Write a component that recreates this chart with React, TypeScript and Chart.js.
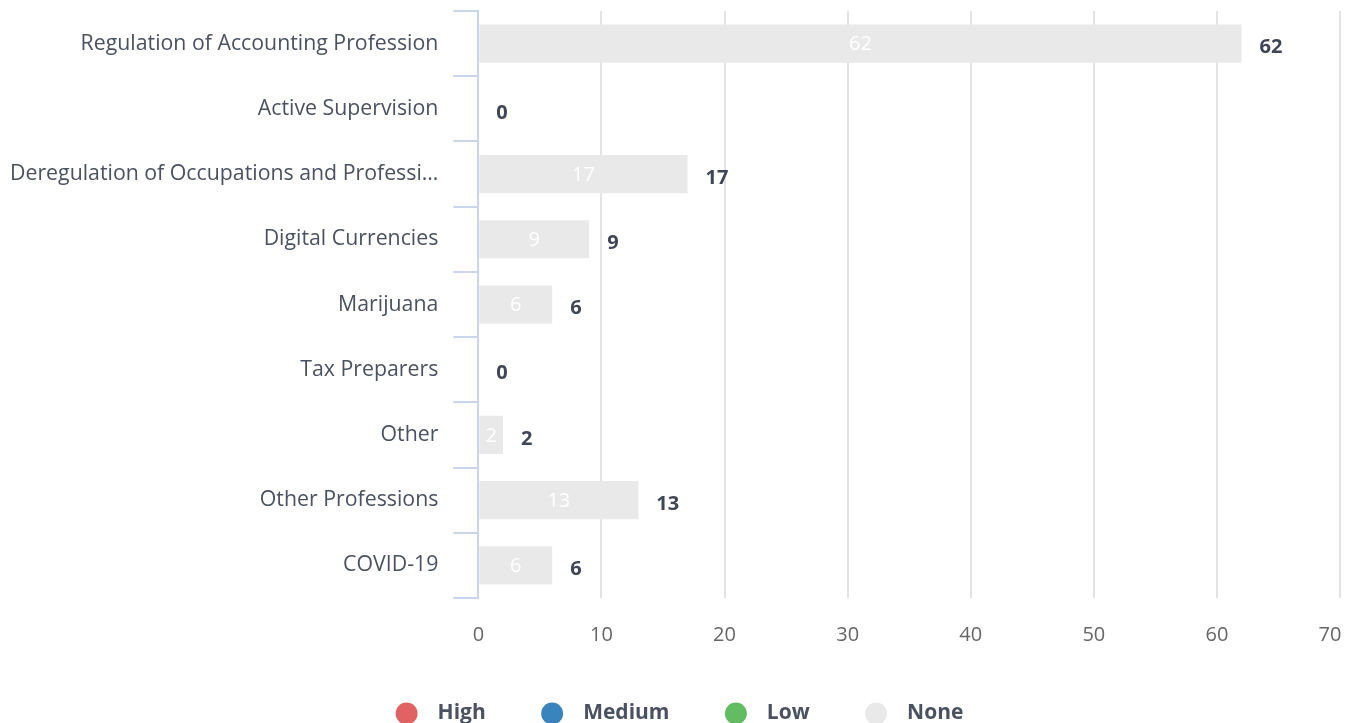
import React, { useEffect, useRef } from "react";
import { Chart, registerables } from "chart.js";

Chart.register(...registerables);

const categories = [
  "Regulation of Accounting Profession",
  "Active Supervision",
  "Deregulation of Occupations and Professions",
  "Digital Currencies",
  "Marijuana",
  "Tax Preparers",
  "Other",
  "Other Professions",
  "COVID-19",
];
const highValues = [0, 0, 0, 0, 0, 0, 0, 0, 0];
const mediumValues = [0, 0, 0, 0, 0, 0, 0, 0, 0];
const lowValues = [0, 0, 0, 0, 0, 0, 0, 0, 0];
const noneValues = [62, 0, 17, 9, 6, 0, 2, 13, 6];
const xTicks = [0, 10, 20, 30, 40, 50, 60, 70];

const FONT = "'Open Sans', 'Noto Sans', sans-serif";

const labelPlugin = {
  id: "barLabels",
  afterLayout(chart: any) {
    if (chart.legend) {
      chart.legend.left += 5;
      chart.legend.right += 5;
    }
  },
  afterDatasetsDraw(chart: any) {
    const { ctx } = chart;
    const xScale = chart.scales.x;
    const n = chart.data.labels.length;
    ctx.save();
    chart.data.datasets.forEach((ds: any, di: number) => {
      const meta = chart.getDatasetMeta(di);
      meta.data.forEach((bar: any, i: number) => {
        const v = ds.data[i];
        if (!v) return;
        ctx.font = `400 20px ${FONT}`;
        ctx.fillStyle = "#ffffff";
        ctx.textAlign = "center";
        ctx.textBaseline = "middle";
        ctx.fillText(String(v), (bar.x + bar.base) / 2, bar.y + 1);
      });
    });
    const meta0 = chart.getDatasetMeta(chart.data.datasets.length - 1);
    for (let i = 0; i < n; i++) {
      let total = 0;
      chart.data.datasets.forEach((ds: any) => (total += ds.data[i] || 0));
      const x = xScale.getPixelForValue(total) + 18;
      const y = meta0.data[i].y + 4;
      ctx.font = `700 20px ${FONT}`;
      ctx.fillStyle = "#3f4656";
      ctx.textAlign = "left";
      ctx.textBaseline = "middle";
      ctx.fillText(String(total), x, y);
    }
    ctx.restore();
  },
};

export default function App() {
  const canvasRef = useRef<HTMLCanvasElement | null>(null);

  useEffect(() => {
    if (!canvasRef.current) return;
    const chart = new Chart(canvasRef.current, {
      type: "bar",
      data: {
        labels: categories,
        datasets: [
          { label: "High", data: highValues, backgroundColor: "#e06262", borderWidth: 0 },
          { label: "Medium", data: mediumValues, backgroundColor: "#3a84bd", borderWidth: 0 },
          { label: "Low", data: lowValues, backgroundColor: "#62bd62", borderWidth: 0 },
          { label: "None", data: noneValues, backgroundColor: "#e9e9e9", borderWidth: 0 },
        ],
      },
      options: {
        indexAxis: "y",
        animation: false,
        responsive: true,
        maintainAspectRatio: false,
        categoryPercentage: 0.585,
        barPercentage: 1,
        layout: { padding: { top: 3, right: 6, left: 2, bottom: 0 } },
        scales: {
          x: {
            stacked: true,
            min: 0,
            max: 70,
            afterBuildTicks: (scale: any) => {
              scale.ticks = xTicks.map((v) => ({ value: v }));
            },
            afterFit: (scale: any) => {
              scale.paddingLeft = 0;
              scale.paddingRight = 0;
              scale.height -= 0.4;
            },
            grid: { color: "#e3e3e3", lineWidth: 2, drawTicks: true, tickLength: 25, tickColor: "rgba(0,0,0,0)" },
            border: { display: false },
            ticks: {
              padding: 0,
              color: "#666666",
              font: { family: FONT, size: 20 },
              callback: (value: any, index: number, ticks: any[]) =>
                index === ticks.length - 1 ? String(value) + "\u2002\u2002" : String(value),
            },
          },
          y: {
            stacked: true,
            afterFit: (scale: any) => {
              scale.paddingTop = 0;
              scale.paddingBottom = 0;
              scale.width -= 15;
            },
            grid: {
              offset: true,
              drawOnChartArea: false,
              drawTicks: true,
              tickLength: 25,
              color: "#c9d5ec",
              lineWidth: 2,
            },
            border: { color: "#c9d5ec", width: 2 },
            ticks: {
              padding: 15,
              color: "#4a5262",
              font: { family: FONT, size: 21.3 },
              callback: function (this: any, value: any) {
                const s = this.getLabelForValue(value) as string;
                return s.length > 40 ? s.slice(0, 40) + "…" : s;
              },
            },
          },
        },
        plugins: {
          tooltip: { enabled: false },
          legend: {
            position: "bottom",
            labels: {
              usePointStyle: true,
              pointStyle: "circle",
              boxHeight: 15.5,
              boxWidth: 20,
              padding: 56.4,
              color: "#4a5262",
              font: { family: FONT, size: 21, weight: "bold" },
              generateLabels: (c: any) =>
                Chart.defaults.plugins.legend.labels
                  .generateLabels(c)
                  .map((l: any) => ({ ...l, text: "\u2002" + l.text, strokeStyle: "transparent", lineWidth: 0 })),
            },
          },
        },
      },
      plugins: [labelPlugin],
    } as any);
    return () => chart.destroy();
  }, []);

  return (
    <div style={{ height: 715, overflow: "hidden" }}>
      <div style={{ position: "relative", height: 726 }}>
        <canvas ref={canvasRef} />
      </div>
    </div>
  );
}
